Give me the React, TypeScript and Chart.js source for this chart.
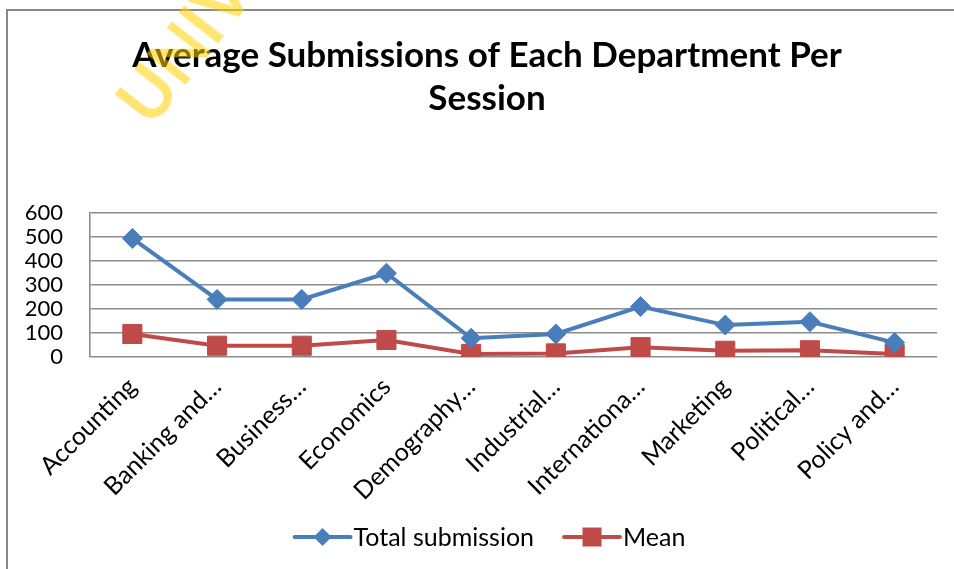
import React, { useEffect, useRef } from "react";
import { Chart, registerables } from "chart.js";

Chart.register(...registerables);

const categories = [
  "Accounting",
  "Banking and…",
  "Business…",
  "Economics",
  "Demography…",
  "Industrial…",
  "Internationa…",
  "Marketing",
  "Political…",
  "Policy and…",
];
const totalSubmission = [494, 240, 240, 349, 78, 96, 210, 133, 147, 60];
const meanValues = [96, 47, 47, 71, 13, 15, 41, 26, 28, 12];
const titleLines = ["Average Submissions of Each Department Per", "Session"];
const seriesNames = ["Total submission", "Mean"];
const yTicks = [0, 100, 200, 300, 400, 500, 600];

const BLUE = "#4A7EBB";
const RED = "#BE4B48";
const FONT = "Lato";

const titlePlugin = {
  id: "excelTitle",
  afterDraw(chart: any) {
    const ctx = chart.ctx;
    ctx.save();
    ctx.font = `bold 35px ${FONT}`;
    ctx.fillStyle = "#000";
    ctx.textAlign = "center";
    ctx.textBaseline = "alphabetic";
    titleLines.forEach((line, i) => {
      ctx.fillText(line, 487, 67 + i * 43);
    });
    ctx.restore();
  },
};

const legendPlugin = {
  id: "excelLegend",
  afterDraw(chart: any) {
    const ctx = chart.ctx;
    ctx.save();
    ctx.font = `25px ${FONT}`;
    ctx.textBaseline = "middle";
    ctx.fillStyle = "#000";
    const y = 537;
    const lineLen = 56;
    const gap = 3;
    const itemGap = 30;
    const items = chart.data.datasets.map((ds: any) => ({
      ds,
      w: lineLen + gap + ctx.measureText(ds.label).width,
    }));
    const total = items.reduce((a: number, it: any) => a + it.w, 0) + itemGap * (items.length - 1);
    let x = 490 - total / 2;
    items.forEach((it: any) => {
      const ds = it.ds;
      ctx.strokeStyle = ds.borderColor;
      ctx.lineWidth = 4;
      ctx.lineCap = "round";
      ctx.beginPath();
      ctx.moveTo(x, y);
      ctx.lineTo(x + lineLen, y);
      ctx.stroke();
      const cx = x + lineLen / 2;
      ctx.fillStyle = ds.borderColor;
      ctx.beginPath();
      if (ds.pointStyle === "rectRot") {
        ctx.moveTo(cx, y - 9);
        ctx.lineTo(cx + 9, y);
        ctx.lineTo(cx, y + 9);
        ctx.lineTo(cx - 9, y);
        ctx.closePath();
      } else {
        ctx.rect(cx - 9.5, y - 9.5, 19, 19);
      }
      ctx.fill();
      ctx.fillStyle = "#000";
      ctx.textAlign = "left";
      ctx.fillText(ds.label, x + lineLen + gap, y + 1);
      x += it.w + itemGap;
    });
    ctx.restore();
  },
};

export default function App() {
  const canvasRef = useRef<HTMLCanvasElement | null>(null);

  useEffect(() => {
    if (!canvasRef.current) return;
    const chart = new Chart(canvasRef.current, {
      type: "line",
      data: {
        labels: categories,
        datasets: [
          {
            label: seriesNames[0],
            data: totalSubmission,
            borderColor: BLUE,
            backgroundColor: BLUE,
            borderWidth: 4,
            pointStyle: "rectRot",
            pointRadius: 10,
            pointBorderWidth: 1,
            pointBorderColor: BLUE,
            pointBackgroundColor: BLUE,
            tension: 0,
          },
          {
            label: seriesNames[1],
            data: meanValues,
            borderColor: RED,
            backgroundColor: RED,
            borderWidth: 4,
            pointStyle: "rect",
            pointRadius: 13.5,
            pointBorderWidth: 1,
            pointBorderColor: RED,
            pointBackgroundColor: RED,
            tension: 0,
          },
        ],
      },
      options: {
        responsive: false,
        animation: false,
        layout: { padding: { left: 0, right: 17, top: 213, bottom: 0 } },
        plugins: {
          legend: { display: false },
          tooltip: { enabled: false },
          title: { display: false },
        },
        scales: {
          x: {
            type: "category",
            offset: true,
            grid: { display: false, drawTicks: false },
            border: { display: false },
            ticks: {
              color: "#000",
              font: { family: FONT, size: 25 },
              minRotation: 45,
              maxRotation: 45,
              autoSkip: false,
              padding: 15,
            },
            afterFit(scale: any) {
              scale.height = 569 - 357;
            },
          },
          y: {
            min: 0,
            max: 600,
            afterBuildTicks(scale: any) {
              scale.ticks = yTicks.map((v) => ({ value: v }));
            },
            grid: { color: "#8c8c8c", lineWidth: 1.6, drawTicks: false },
            border: { display: true, color: "#8c8c8c", width: 1.6 },
            ticks: {
              color: "#000",
              font: { family: FONT, size: 22 },
              padding: 27,
              autoSkip: false,
            },
            afterFit(scale: any) {
              scale.width = 90;
            },
          },
        },
      },
      plugins: [titlePlugin, legendPlugin],
    });
    return () => chart.destroy();
  }, []);

  return (
    <div
      style={{
        position: "fixed",
        left: 0,
        top: 0,
        width: 954,
        height: 569,
        background: "#fff",
        overflow: "hidden",
      }}
    >
      <div
        style={{
          position: "absolute",
          left: 6,
          top: 9,
          width: 1200,
          height: 1200,
          border: "2px solid #888",
          boxSizing: "border-box",
        }}
      />
      <canvas
        ref={canvasRef}
        width={954}
        height={569}
        style={{ position: "absolute", left: 0, top: 0, display: "block" }}
      />
      <div
        style={{
          position: "absolute",
          left: 104,
          top: 92,
          transformOrigin: "0 0",
          transform: "rotate(-52deg)",
          fontFamily: FONT,
          fontWeight: "bold",
          fontSize: 68,
          lineHeight: "1",
          color: "rgba(255, 210, 0, 0.55)",
          whiteSpace: "nowrap",
          pointerEvents: "none",
        }}
      >
        UNIVERSITY
      </div>
    </div>
  );
}
